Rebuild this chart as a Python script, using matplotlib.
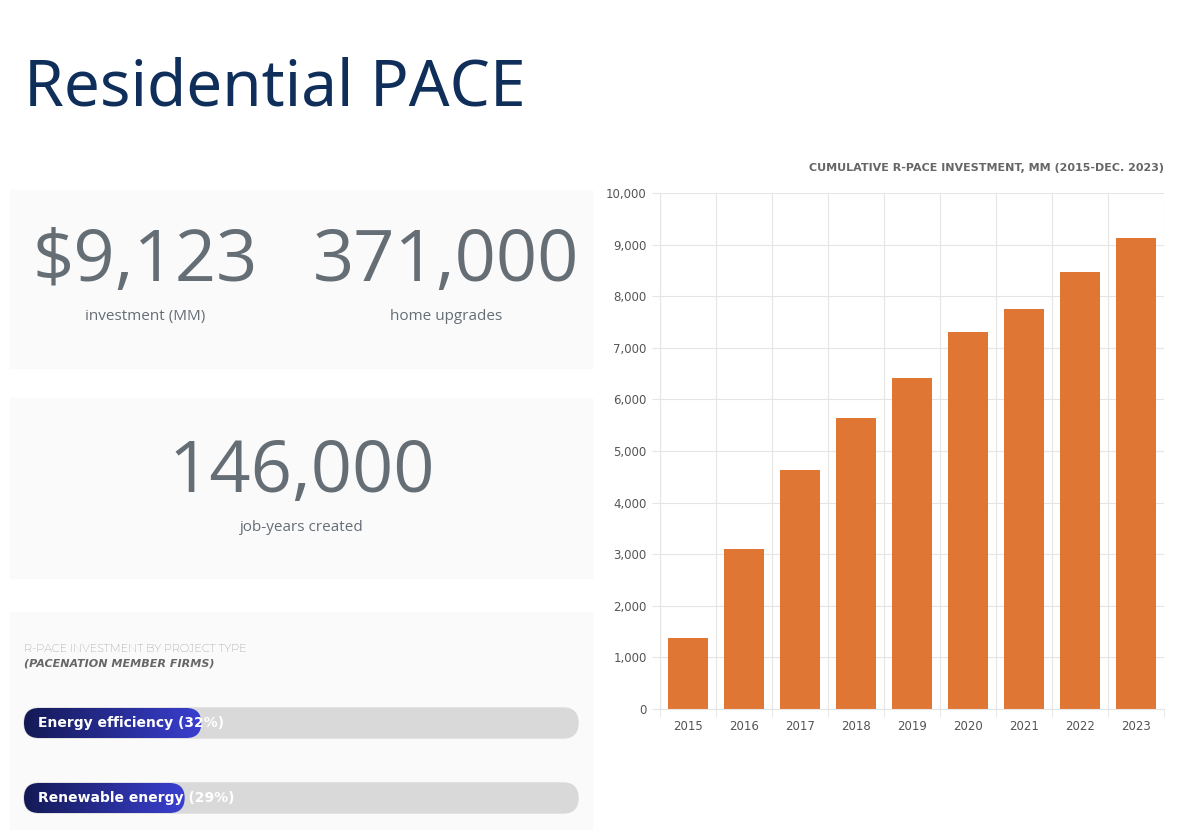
import matplotlib.pyplot as plt
import numpy as np
from matplotlib.patches import FancyBboxPatch, Rectangle

# data
years = ["2015", "2016", "2017", "2018", "2019", "2020", "2021", "2022", "2023"]
investment = [1380, 3100, 4640, 5640, 6410, 7310, 7750, 8460, 9123]
stat_values = ["$9,123", "371,000", "146,000"]
stat_labels = ["investment (MM)", "home upgrades", "job-years created"]
project_types = ["Energy efficiency (32%)", "Renewable energy (29%)"]
project_shares = [32, 29]

W, H = 1192, 830
fig = plt.figure(figsize=(W / 100, H / 100), dpi=100)
fig.patch.set_facecolor("white")

# page layer in pixel coords
bg = fig.add_axes([0, 0, 1, 1])
bg.set_xlim(0, W)
bg.set_ylim(H, 0)
bg.axis("off")

bg.text(24, 88, "Residential PACE", fontsize=46, fontweight="bold",
        color="#0f2e5a", family="Montserrat, Noto Sans".split(", ")[-1], va="center")

# cards
for y0, y1 in [(190, 368), (398, 578), (612, 830)]:
    bg.add_patch(Rectangle((10, y0), 582, y1 - y0, color="#fafafa", zorder=0))

grey = "#656d75"
big = dict(fontsize=52, color=grey, family="Open Sans", ha="center", va="center")
small = dict(fontsize=11, color=grey, family="Open Sans", ha="center", va="center")
bg.text(145, 262, stat_values[0], **big)
bg.text(446, 262, stat_values[1], **big)
bg.text(145, 316, stat_labels[0], **small)
bg.text(446, 316, stat_labels[1], **small)
bg.text(302, 473, stat_values[2], **big)
bg.text(302, 527, stat_labels[2], **small)

bg.text(24, 649, "R-PACE INVESTMENT BY PROJECT TYPE", fontsize=8, fontweight="bold",
        color="#666666", family="Montserrat", va="center")
bg.text(24, 663, "(PACENATION MEMBER FIRMS)", fontsize=8, fontweight="bold",
        style="italic", color="#666666", va="center")

grad = np.linspace(0, 1, 256).reshape(1, -1)
from matplotlib.colors import LinearSegmentedColormap
cmap = LinearSegmentedColormap.from_list("bar", ["#141a55", "#3a3fd0"])
x0, x1 = 24, 578
for i, (name, share) in enumerate(zip(project_types, project_shares)):
    yc = 723 + i * 75
    h = 30
    track = FancyBboxPatch((x0, yc - h / 2), x1 - x0, h,
                           boxstyle=f"round,pad=0,rounding_size={h/2}",
                           color="#d9d9d9", zorder=1)
    bg.add_patch(track)
    fw = (x1 - x0) * share / 100
    clip = FancyBboxPatch((x0, yc - h / 2), fw, h,
                          boxstyle=f"round,pad=0,rounding_size={h/2}",
                          facecolor="none", edgecolor="none", zorder=2)
    bg.add_patch(clip)
    im = bg.imshow(grad, cmap=cmap, extent=(x0, x0 + fw, yc + h / 2, yc - h / 2),
                   aspect="auto", zorder=2)
    im.set_clip_path(clip)
    bg.text(38, yc, name, fontsize=10, fontweight="bold", color="white",
            va="center", zorder=3)
bg.set_xlim(0, W)
bg.set_ylim(H, 0)

# bar chart
ax = fig.add_axes([660 / W, 1 - 709 / H, 504 / W, 516 / H])
ax.bar(years, investment, width=0.72, color="#df7633", zorder=2)
ax.set_ylim(0, 10000)
ax.set_xlim(-0.5, len(years) - 0.5)
ax.set_yticks(range(0, 10001, 1000))
ax.set_yticklabels([f"{v:,}" for v in range(0, 10001, 1000)])
ax.set_xticks(np.arange(len(years) + 1) - 0.5, minor=True)
ax.grid(axis="y", color="#e5e5e5", lw=0.8, zorder=0)
ax.grid(axis="x", which="minor", color="#e5e5e5", lw=0.8, zorder=0)
ax.tick_params(axis="x", which="major", length=0, pad=8, labelsize=8.5, colors="#555555")
ax.tick_params(axis="x", which="minor", length=6, color="#e5e5e5")
ax.tick_params(axis="y", length=6, color="#e5e5e5", labelsize=8.5, colors="#555555")
for s in ["top", "right"]:
    ax.spines[s].set_visible(False)
ax.spines["left"].set_color("#e5e5e5")
ax.spines["bottom"].set_color("#e5e5e5")
ax.set_title("CUMULATIVE R-PACE INVESTMENT, MM (2015-DEC. 2023)", loc="right",
             fontsize=8, fontweight="bold", color="#666666", pad=16)

fig.savefig("out.png", dpi=100)
